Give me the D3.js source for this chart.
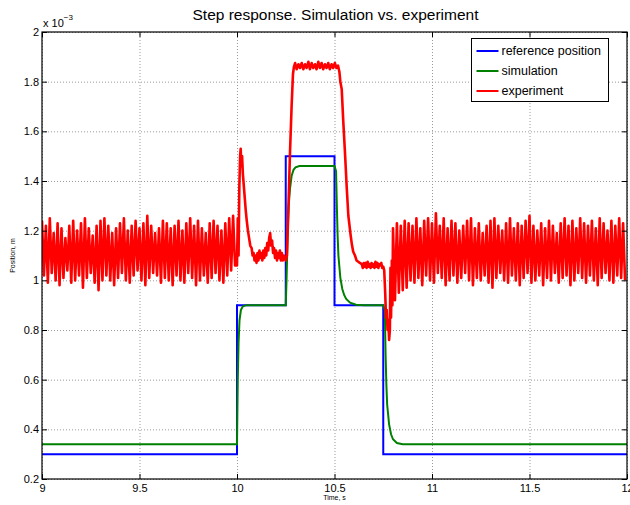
<!DOCTYPE html>
<html>
<head>
<meta charset="utf-8">
<script src="https://cdn.jsdelivr.net/npm/d3@7"></script>
<style>
  body { margin: 0; background: #fff; }
  svg { font-family: "Liberation Sans", Arial, Helvetica, sans-serif; }
</style>
</head>
<body>
<svg id="chart"></svg>
<script>
const svg = d3.select("#chart");

const WIDTH = 630;
const HEIGHT = 505;

const LEFT = 42;
const RIGHT = 627;
const TOP = 32;
const BOTTOM = 479;

// tick labels
const xTicks = [9, 9.5, 10, 10.5, 11, 11.5, 12];
const yTicks = [0.2, 0.4, 0.6, 0.8, 1, 1.2, 1.4, 1.6, 1.8, 2];

const seriesNames = ["reference position", "simulation", "experiment"];
const seriesColors = ["#0000ff", "#008000", "#ff0000"];

// reference position (step), values in 1e-3 m
const refT = [9, 10, 10.25, 10.5, 10.75, 12];
const refY = [0.3, 0.9, 1.5, 0.9, 0.3, 0.3];

// simulation response
const simT = [9, 10, 10.004, 10.008, 10.013, 10.02, 10.03, 10.05,
  10.25, 10.254, 10.26, 10.265, 10.272, 10.28, 10.29, 10.3, 10.32,
  10.5, 10.508, 10.512, 10.516, 10.52, 10.53, 10.54, 10.55, 10.56, 10.58, 10.61, 10.65,
  10.75, 10.758, 10.762, 10.766, 10.77, 10.78, 10.79, 10.8, 10.82, 10.85, 12];
const simY = [0.34, 0.34, 0.6, 0.75, 0.84, 0.88, 0.895, 0.9,
  0.9, 1.0, 1.2, 1.3, 1.37, 1.42, 1.445, 1.455, 1.46,
  1.46, 1.44, 1.3, 1.18, 1.1, 1.01, 0.965, 0.94, 0.925, 0.91, 0.902, 0.9,
  0.9, 0.88, 0.7, 0.58, 0.5, 0.42, 0.38, 0.36, 0.345, 0.34, 0.34];

// experiment: oscillation before the first step (peaks / troughs, 0.02 s period)
const expPreStart = 9.0;
const expPeriod = 0.02;
const expPreHi = [1.24, 1.22, 1.25, 1.19, 1.23, 1.21, 1.17, 1.22, 1.24, 1.20,
  1.23, 1.25, 1.21, 1.18, 1.22, 1.24, 1.25, 1.22, 1.19, 1.21,
  1.23, 1.25, 1.20, 1.22, 1.24, 1.21, 1.23, 1.26, 1.22, 1.19,
  1.21, 1.24, 1.23, 1.21, 1.22, 1.24, 1.20, 1.23, 1.25, 1.22,
  1.24, 1.21, 1.19, 1.23, 1.24, 1.22, 1.20, 1.23, 1.25, 1.26];
const expPreLo = [1.02, 0.99, 1.03, 1.00, 0.98, 1.01, 1.04, 0.99, 1.00, 1.02,
  0.97, 1.01, 1.03, 0.99, 0.96, 1.00, 1.02, 1.00, 0.98, 1.01,
  1.03, 1.00, 0.99, 1.02, 1.04, 1.00, 0.98, 1.01, 1.03, 1.02,
  0.99, 1.01, 1.00, 0.98, 1.02, 1.00, 0.99, 1.03, 1.01, 0.98,
  1.00, 1.02, 0.99, 1.01, 1.03, 1.00, 0.99, 1.02, 1.04, 1.06];

// experiment: transient part, [time, value]
const expMid = [
  [10.0, 1.06], [10.004, 1.25], [10.008, 1.10], [10.012, 1.38], [10.016, 1.50],
  [10.019, 1.53], [10.022, 1.46], [10.026, 1.50], [10.03, 1.43], [10.035, 1.38],
  [10.04, 1.33], [10.045, 1.28], [10.05, 1.24], [10.056, 1.20], [10.062, 1.17],
  [10.068, 1.14], [10.075, 1.13], [10.08, 1.10], [10.085, 1.11], [10.09, 1.08],
  [10.095, 1.10], [10.1, 1.07], [10.105, 1.11], [10.11, 1.08], [10.115, 1.12],
  [10.12, 1.09], [10.125, 1.11], [10.13, 1.08], [10.135, 1.12], [10.14, 1.09],
  [10.145, 1.13], [10.15, 1.10], [10.155, 1.15], [10.16, 1.12], [10.165, 1.17],
  [10.17, 1.19], [10.175, 1.14], [10.18, 1.16], [10.185, 1.11], [10.19, 1.13],
  [10.195, 1.09], [10.2, 1.12], [10.205, 1.08], [10.21, 1.11], [10.215, 1.09],
  [10.22, 1.12], [10.225, 1.08], [10.23, 1.11], [10.235, 1.08], [10.24, 1.10],
  [10.245, 1.09], [10.25, 1.08], [10.256, 1.10], [10.264, 1.30], [10.272, 1.52],
  [10.28, 1.70], [10.287, 1.83], [10.292, 1.86],
  [10.298, 1.875], [10.306, 1.85], [10.315, 1.87], [10.323, 1.855], [10.332, 1.875],
  [10.34, 1.85], [10.349, 1.87], [10.357, 1.855], [10.366, 1.88], [10.374, 1.85],
  [10.383, 1.875], [10.391, 1.855], [10.4, 1.87], [10.408, 1.85], [10.417, 1.88],
  [10.425, 1.855], [10.434, 1.875], [10.442, 1.85], [10.451, 1.87], [10.459, 1.855],
  [10.468, 1.875], [10.476, 1.85], [10.485, 1.87], [10.493, 1.855], [10.502, 1.875],
  [10.51, 1.855], [10.518, 1.865],
  [10.525, 1.84], [10.53, 1.80], [10.537, 1.77], [10.545, 1.64], [10.554, 1.51],
  [10.563, 1.37], [10.571, 1.26], [10.577, 1.22], [10.583, 1.18], [10.59, 1.14],
  [10.596, 1.115], [10.605, 1.10], [10.613, 1.08], [10.622, 1.075], [10.63, 1.07],
  [10.64, 1.065], [10.645, 1.05], [10.65, 1.07], [10.655, 1.055], [10.66, 1.07],
  [10.665, 1.05], [10.67, 1.075], [10.675, 1.055], [10.68, 1.065], [10.685, 1.05],
  [10.69, 1.07], [10.695, 1.055], [10.7, 1.065], [10.705, 1.05], [10.71, 1.075],
  [10.715, 1.055], [10.72, 1.07], [10.725, 1.05], [10.73, 1.065], [10.735, 1.06],
  [10.74, 1.07], [10.745, 1.05], [10.75, 1.055],
  [10.755, 1.04], [10.76, 0.95], [10.764, 0.85], [10.768, 0.88], [10.772, 0.80],
  [10.776, 0.84], [10.78, 0.76], [10.784, 0.80], [10.787, 1.05], [10.79, 0.85],
  [10.794, 1.08], [10.797, 0.90]
];

// experiment: oscillation after the last step
const expPostStart = 10.8;
const expPostHi = [1.21, 1.23, 1.22, 1.24, 1.23, 1.22, 1.25, 1.21, 1.24, 1.25,
  1.23, 1.27, 1.22, 1.25, 1.21, 1.24, 1.23, 1.20, 1.22, 1.24,
  1.25, 1.21, 1.23, 1.19, 1.22, 1.24, 1.25, 1.22, 1.20, 1.23,
  1.25, 1.21, 1.23, 1.22, 1.24, 1.26, 1.22, 1.20, 1.23, 1.21,
  1.24, 1.22, 1.19, 1.23, 1.25, 1.22, 1.24, 1.21, 1.25, 1.23,
  1.22, 1.24, 1.21, 1.25, 1.23, 1.20, 1.24, 1.22, 1.25, 1.23];
const expPostLo = [0.92, 0.95, 0.96, 0.97, 1.00, 0.99, 1.01, 0.98, 1.02, 1.00,
  0.99, 1.03, 1.01, 0.98, 1.00, 1.02, 0.99, 1.01, 1.03, 1.00,
  0.98, 1.01, 1.00, 1.02, 0.99, 0.97, 1.01, 1.03, 1.00, 0.99,
  1.02, 1.00, 0.98, 1.01, 1.03, 0.99, 1.00, 1.02, 0.98, 1.01,
  1.00, 1.03, 0.99, 1.01, 1.02, 0.98, 1.00, 1.03, 1.01, 0.99,
  1.02, 1.00, 0.98, 1.01, 1.03, 1.00, 0.99, 1.02, 1.01, 1.00];

// build point lists
const refData = refT.map((t, i) => ({ x: t, y: refY[i] }));
const simData = simT.map((t, i) => ({ x: t, y: simY[i] }));

const oscPoints = (start, hi, lo) => {
  let pts = [];
  hi.forEach((h, i) => {
    pts.push({ x: start + i * expPeriod, y: h });
    pts.push({ x: start + i * expPeriod + expPeriod / 2, y: lo[i] });
  });
  return pts;
};

const expData = [
  ...oscPoints(expPreStart, expPreHi, expPreLo),
  ...expMid.map((d) => ({ x: d[0], y: d[1] })),
  ...oscPoints(expPostStart, expPostHi, expPostLo),
];

svg.attr("width", WIDTH).attr("height", HEIGHT);

const scaleX = d3.scaleLinear().domain([9, 12]).range([LEFT, RIGHT]);
const scaleY = d3.scaleLinear().domain([0.2, 2]).range([BOTTOM, TOP]);

// grid
svg
  .append("g")
  .attr("transform", `translate(0, ${BOTTOM})`)
  .call(d3.axisBottom(scaleX).tickValues(xTicks).tickSize(-(BOTTOM - TOP)).tickFormat(""))
  .call((g) => g.select(".domain").remove())
  .selectAll("line")
  .attr("stroke", "#9a9a9a")
  .attr("stroke-dasharray", "1,2");

svg
  .append("g")
  .attr("transform", `translate(${LEFT}, 0)`)
  .call(d3.axisLeft(scaleY).tickValues(yTicks).tickSize(-(RIGHT - LEFT)).tickFormat(""))
  .call((g) => g.select(".domain").remove())
  .selectAll("line")
  .attr("stroke", "#9a9a9a")
  .attr("stroke-dasharray", "1,2");

// lines
svg
  .append("clipPath")
  .attr("id", "plotClip")
  .append("rect")
  .attr("x", LEFT)
  .attr("y", TOP)
  .attr("width", RIGHT - LEFT)
  .attr("height", BOTTOM - TOP);

const lineF = d3
  .line()
  .x((p) => scaleX(p.x))
  .y((p) => scaleY(p.y));

const plot = svg.append("g").attr("clip-path", "url(#plotClip)");

plot
  .append("path")
  .datum(refData)
  .attr("d", lineF.curve(d3.curveStepAfter))
  .attr("fill", "none")
  .attr("stroke", seriesColors[0])
  .attr("stroke-width", 2);

lineF.curve(d3.curveLinear);

plot
  .append("path")
  .datum(simData)
  .attr("d", lineF)
  .attr("fill", "none")
  .attr("stroke", seriesColors[1])
  .attr("stroke-width", 2);

plot
  .append("path")
  .datum(expData)
  .attr("d", lineF)
  .attr("fill", "none")
  .attr("stroke", seriesColors[2])
  .attr("stroke-width", 2.6)
  .attr("stroke-linejoin", "round");

// axes with inner ticks
const styleAxis = (g) => {
  g.select(".domain").remove();
  g.selectAll("line").attr("stroke", "#000");
  g.selectAll("text").attr("fill", "#000").style("font-size", "11px");
};

svg
  .append("g")
  .attr("transform", `translate(0, ${BOTTOM})`)
  .call(d3.axisBottom(scaleX).tickValues(xTicks).tickSize(-5).tickPadding(5).tickFormat(d3.format("~g")))
  .call(styleAxis)
  .selectAll("text")
  .attr("dy", "0.71em")
  .attr("y", 5);

svg
  .append("g")
  .attr("transform", `translate(0, ${TOP})`)
  .call(d3.axisTop(scaleX).tickValues(xTicks).tickSize(-5).tickFormat(""))
  .call(styleAxis);

svg
  .append("g")
  .attr("transform", `translate(${LEFT}, 0)`)
  .call(d3.axisLeft(scaleY).tickValues(yTicks).tickSize(-5).tickFormat(d3.format("~g")))
  .call(styleAxis)
  .selectAll("text")
  .attr("x", -3);

svg
  .append("g")
  .attr("transform", `translate(${RIGHT}, 0)`)
  .call(d3.axisRight(scaleY).tickValues(yTicks).tickSize(-5).tickFormat(""))
  .call(styleAxis);

// box
svg
  .append("rect")
  .attr("x", LEFT)
  .attr("y", TOP)
  .attr("width", RIGHT - LEFT)
  .attr("height", BOTTOM - TOP)
  .attr("fill", "none")
  .attr("stroke", "#000")
  .attr("stroke-width", 1.2);

// texts
svg
  .append("text")
  .attr("x", 335.5)
  .attr("y", 20)
  .attr("text-anchor", "middle")
  .style("font-size", "15.5px")
  .text("Step response. Simulation vs. experiment");

const expo = svg.append("text").attr("x", LEFT + 1).attr("y", 27).style("font-size", "11px");
expo.append("tspan").text("x 10");
expo.append("tspan").attr("dy", -7).style("font-size", "8px").text("\u22123");

svg
  .append("text")
  .attr("x", (LEFT + RIGHT) / 2)
  .attr("y", 500)
  .attr("text-anchor", "middle")
  .style("font-size", "7px")
  .text("Time, s");

svg
  .append("text")
  .attr("transform", `translate(15, ${(TOP + BOTTOM) / 2}) rotate(-90)`)
  .attr("text-anchor", "middle")
  .style("font-size", "7px")
  .text("Position, m");

// legend
const legend = svg.append("g").attr("transform", "translate(471.5, 38.5)");
legend
  .append("rect")
  .attr("width", 137)
  .attr("height", 63)
  .attr("fill", "#fff")
  .attr("stroke", "#000");

seriesNames.forEach((name, i) => {
  let row = legend.append("g").attr("transform", `translate(0, ${12.5 + i * 20})`);
  row
    .append("line")
    .attr("x1", 5)
    .attr("x2", 27)
    .attr("stroke", seriesColors[i])
    .attr("stroke-width", 2);
  row
    .append("text")
    .attr("x", 30)
    .attr("dy", "0.35em")
    .style("font-size", "12.5px")
    .text(name);
});
</script>
</body>
</html>
